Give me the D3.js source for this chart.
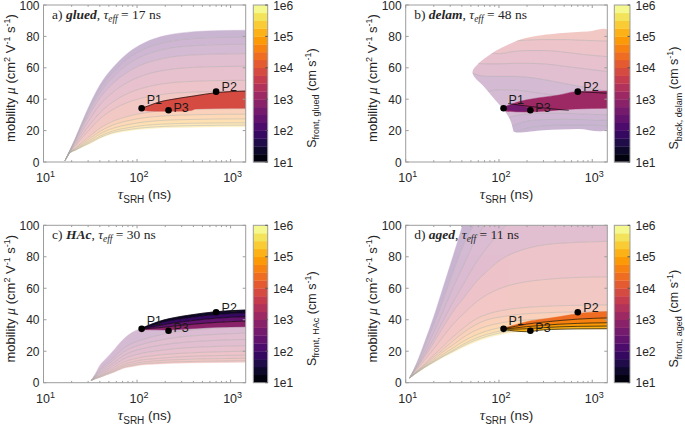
<!DOCTYPE html>
<html><head><meta charset="utf-8">
<script src="https://cdn.jsdelivr.net/npm/d3@7"></script>
<style>
body{margin:0;background:#fff}
svg{display:block}
text{font-family:"Liberation Sans",Arial,sans-serif;fill:#262626}
</style>
</head><body><svg id="c" width="685" height="427"></svg>
<script>
// ================= DATA =================
const pointNames = ["P1", "P2", "P3"];
const pointTau = [112, 700, 217];
const pointMu = [34.2, 44.8, 33.0];

const xTickValues = [10, 100, 1000];
const xTickExponents = ["1", "2", "3"];
const yTickValues = [0, 20, 40, 60, 80, 100];
const cbTickValues = [1, 2, 3, 4, 5, 6];
const cbTickLabels = ["1e1", "1e2", "1e3", "1e4", "1e5", "1e6"];

const panelLetters = ["a", "b", "c", "d"];
const panelNames = ["glued", "delam", "HAc", "aged"];
const panelTauEff = [17, 48, 30, 11];
const cbSubscripts = ["front, glued", "back, delam", "front, HAc", "front, aged"];

// ---- panel a (glued): contour lines of S_front (mu at each tau), top -> bottom
const tauA = [17, 19, 22, 26, 32, 40, 55, 80, 120, 200, 400, 800, 1500];
const linesA = [
  [1, 7, 15.5, 26, 38, 49, 60, 69.5, 76, 80.5, 83, 83.8, 84],
  [1, 6.9, 14.9, 24.8, 36.1, 46.5, 56.9, 65.9, 72, 76.2, 78.6, 79.3, 79.5],
  [1, 6.8, 14.3, 23.6, 34.2, 44, 53.9, 62.2, 68, 71.9, 74.1, 74.8, 75],
  [1, 6.6, 13.5, 22, 31.7, 40.7, 49.8, 57.4, 62.6, 66.2, 68.2, 68.8, 69],
  [1, 6.4, 12.5, 19.8, 28.3, 36.3, 44.3, 50.9, 55.4, 58.5, 60.3, 60.8, 61],
  [1, 6.2, 11.3, 17.4, 24.5, 31.3, 38.2, 43.7, 47.4, 50, 51.4, 51.9, 52],
  [1, 6, 10.4, 15.5, 21.5, 27.4, 33.4, 38, 41.1, 43.3, 44.5, 44.9, 45],
  [1, 5.8, 9, 12.6, 16.9, 21.4, 25.9, 29.1, 31.3, 32.8, 33.6, 33.9, 34],
  [1, 5.7, 8.5, 11.6, 15.4, 19.4, 23.5, 26.3, 28.2, 29.4, 30.1, 30.4, 30.5],
  [1, 5.6, 8.1, 10.8, 14.1, 17.8, 21.4, 23.8, 25.5, 26.6, 27.1, 27.4, 27.5],
  [1, 5.6, 7.8, 10.2, 13.1, 16.4, 19.7, 21.8, 23.3, 24.2, 24.7, 24.9, 25],
  [1, 5.5, 7.6, 9.8, 12.4, 15.5, 18.7, 20.6, 21.9, 22.7, 23.2, 23.4, 23.5],
  [1, 5.5, 7.5, 9.5, 12, 15, 18, 19.8, 21, 21.8, 22.2, 22.4, 22.5]
];
const bandSA = [2.1, 2.4, 2.7, 3.0, 3.3, 3.6, 3.9, 4.3, 4.6, 4.9, 5.1, 5.3];
const hlTauA = [112, 130, 177, 217, 300, 380, 420, 690, 1500];
const hlLinesA = [
  [34.2, 35.6, 38.4, 39.5, 40.9, 41.8, 42.2, 44.1, 45.2],
  [33.4, 32.5, 32.3, 32.3, 32.4, 32.8, 33.8, 34.1, 34.2]
];
const hlSA = [3.85];
const hlBlackA = [0];

// ---- panel b (delam)
const tauB = [40, 55, 75, 100, 140, 200, 300, 500, 800, 1500];
const linesB = [
  [100, 100, 100, 100, 100, 100, 100, 100, 100, 100],
  [80, 80, 79, 78, 77.2, 77.6, 78, 78, 77.5, 77],
  [75, 72, 70, 69, 70.3, 71, 71, 70, 68.5, 67],
  [66, 63, 62.5, 62.5, 62.8, 62.8, 62.5, 61, 59.5, 57.5],
  [60, 56, 54.5, 54.5, 54.5, 54, 52.5, 50, 47.8, 45],
  [40, 43, 45, 46, 46, 45, 43.5, 41.5, 39.5, 37.5],
  [10, 15, 20, 25, 29, 30.5, 31, 31, 30.5, 30],
  [5, 10, 14, 18, 23, 26, 27, 27.2, 27, 26.5],
  [0, 4, 8, 12, 18, 21.5, 23, 23.5, 23.5, 23],
  [0, 0, 0, 0, 0, 0, 0, 0, 0, 0]
];
const bandSB = [3.95, 3.7, 3.45, 3.15, 2.7, 2.5, 2.35, 2.2, 2.05];
const outlineTauB = [145, 300, 700, 1500, 1500, 900, 440, 194, 128, 85, 61, 52, 56, 66.5, 85, 100, 109, 120, 130, 137, 141, 145];
const outlineMuB = [19.2, 20.3, 21, 21.6, 83.7, 83.2, 82, 79, 75, 69.5, 63, 57.5, 53.3, 49, 41.6, 36.8, 34.2, 31, 27.5, 24, 21, 19.2];
const hlTauB = [109, 120, 194, 300, 441, 666, 1500];
const hlLinesB = [
  [34.2, 35.5, 39.5, 41.3, 42.7, 44.8, 45.2],
  [34.0, 32.4, 31.8, 32.3, 33.1, 33.8, 34.2]
];
const hlSB = [3.1];
const hlBlackB = [];
const wedgeTauB = [109, 150, 215, 150];
const wedgeMuB = [34.2, 36.8, 33.2, 32.2];
const wedgeSB = 2.55;
const blackTauB1 = [125, 200, 350, 560];
const blackMuB1 = [37.2, 35.6, 34.0, 32.9];
const blackTauB2 = [700, 1450];
const blackMuB2 = [44.8, 43.8];

// ---- panel c (HAc)
const tauC = [32.5, 36, 40, 47, 56, 71, 90, 110, 150, 245, 500, 1500];
const linesC = [
  [1.5, 6, 11, 15.5, 20.5, 27.5, 32.2, 34.5, 37.7, 41.3, 44.2, 46.2],
  [1.5, 4.9, 8.5, 12.1, 16, 21.6, 25.2, 27, 29.4, 32, 34.1, 35.6],
  [1.5, 4.4, 7.6, 10.8, 14.3, 19.3, 22.5, 24.2, 26.2, 28.5, 30.2, 31.5],
  [1.5, 4, 6.7, 9.5, 12.6, 17.1, 19.9, 21.4, 23.1, 25, 26.5, 27.5],
  [1.5, 3.6, 5.7, 8.2, 10.9, 14.9, 17.2, 18.6, 19.9, 21.5, 22.7, 23.5],
  [1.5, 3.2, 4.9, 7.1, 9.5, 13, 14.9, 16.1, 17.2, 18.4, 19.3, 20],
  [1.5, 3, 4.3, 6.3, 8.4, 11.6, 13.3, 14.4, 15.2, 16.2, 17, 17.5],
  [1.5, 2.8, 3.9, 5.7, 7.5, 10.5, 11.9, 12.9, 13.7, 14.5, 15.1, 15.5],
  [1.5, 2.6, 3.5, 5.2, 6.9, 9.7, 10.9, 11.9, 12.5, 13.2, 13.6, 14],
  [1.5, 2.5, 3.3, 4.9, 6.5, 9.1, 10.3, 11.2, 11.7, 12.3, 12.7, 13]
];
const bandSC = [2.6, 2.8, 3.0, 3.2, 3.35, 3.5, 3.65, 3.8, 3.95];
const hlTauC = [112, 140, 192, 250, 372, 700, 1500];
const hlLinesC = [
  [34.6, 37, 39.8, 41.3, 43, 45.1, 46.2],
  [34.4, 36.2, 38.6, 40, 41.5, 43.4, 44.5],
  [34.2, 35.3, 36.8, 38, 39.3, 41, 42],
  [34.0, 34.5, 35.2, 36, 37, 38.3, 39.2],
  [33.8, 33.6, 33.5, 33.6, 34.3, 35.2, 35.6]
];
const hlSC = [1.3, 1.8, 2.3, 2.9];
const hlBlackC = [0, 1, 2, 3];

// ---- panel d (aged)
const tauD = [11, 13, 16, 20, 25, 32, 42, 55, 75, 110, 170, 300, 600, 1500];
const linesD = [
  [3, 12, 26, 42, 60, 80, 103, 130, 160, 200, 230, 260, 280, 290],
  [3, 11, 23, 37, 52, 70, 88, 102, 125, 150, 170, 185, 195, 200],
  [3, 10, 20, 32, 45, 60, 75, 90, 103, 118, 128, 135, 140, 142],
  [3, 9.5, 18, 28, 39, 51, 63, 75, 86, 98, 106, 112, 116, 118],
  [3, 9, 16.5, 25.5, 35, 45, 54, 63, 71, 79, 84, 87.5, 89, 89.8],
  [3, 8, 14.5, 21.5, 29, 37, 44, 50.5, 56, 60.5, 63.5, 65.5, 66.7, 67.3],
  [3, 7, 12, 17.5, 23, 29, 35, 40, 43.5, 46, 47.5, 48.5, 49.1, 49.4],
  [3, 6.8, 11.3, 16.2, 21, 26.5, 32, 36.5, 40, 42, 43.5, 44.4, 44.9, 45.2],
  [3, 6.5, 10.7, 15, 19.5, 24, 29, 33, 36, 38.2, 39.6, 40.4, 40.8, 41],
  [3, 6.3, 10.2, 14, 18, 22, 26.5, 30, 33, 35.3, 36.7, 37.4, 37.8, 38],
  [3, 6.2, 9.9, 13.5, 17, 20.6, 24.6, 28, 30.8, 33.2, 34.6, 35.4, 35.8, 36],
  [3, 6.1, 9.7, 13.1, 16.5, 19.9, 23.6, 26.8, 29.6, 32, 33.5, 34.5, 34.9, 35.1],
  [3, 6, 9.5, 12.8, 16, 19.2, 22.7, 25.7, 28.5, 30.9, 32.5, 33.6, 34.1, 34.3]
];
const bandSD = [2.2, 2.5, 2.8, 3.1, 3.5, 3.85, 4.15, 4.4, 4.65, 4.9, 5.15, 5.4];
const hlTauD = [111, 150, 198, 300, 450, 700, 1500];
const hlLinesD = [
  [34.6, 36.8, 38.8, 40.5, 42, 43.9, 45.3],
  [34.4, 35.8, 37.2, 38.5, 39.5, 40.4, 41.2],
  [34.2, 34.8, 35.6, 36.5, 37.2, 37.7, 38.1],
  [34.0, 34.0, 34.3, 35.0, 35.5, 35.8, 36.0],
  [33.8, 32.8, 32.4, 33.6, 34.0, 34.2, 34.3]
];
const hlSD = [4.4, 4.6, 4.85, 5.1];
const hlBlackD = [1, 2, 3, 4];

// ================= LAYOUT =================
const layout = [
  {x0: 43.5, x1: 245.7, y0: 5, y1: 162, cb0: 253.3, cb1: 267.7},
  {x0: 405.7, x1: 607.3, y0: 5, y1: 162, cb0: 614.3, cb1: 630},
  {x0: 43.5, x1: 245.7, y0: 225.3, y1: 382.7, cb0: 253.3, cb1: 267.7},
  {x0: 405.7, x1: 607.3, y0: 225.3, y1: 382.7, cb0: 614.3, cb1: 630}
];
const labelOffsets = [[5, -4], [5.5, -0.5], [5, 1.5]];
const axisColor = "#9d9d9d";
const serif = "'Liberation Serif','Times New Roman',serif";

const panels = [
  {tau: tauA, lines: linesA, bandS: bandSA, hlTau: hlTauA, hlLines: hlLinesA, hlS: hlSA, hlBlack: hlBlackA},
  {tau: tauB, lines: linesB, bandS: bandSB, hlTau: hlTauB, hlLines: hlLinesB, hlS: hlSB, hlBlack: hlBlackB,
   outline: outlineTauB.map((t, i) => [t, outlineMuB[i]]),
   wedge: {pts: wedgeTauB.map((t, i) => [t, wedgeMuB[i]]), s: wedgeSB},
   extraBlack: [blackTauB1.map((t, i) => [t, blackMuB1[i]]), blackTauB2.map((t, i) => [t, blackMuB2[i]])]},
  {tau: tauC, lines: linesC, bandS: bandSC, hlTau: hlTauC, hlLines: hlLinesC, hlS: hlSC, hlBlack: hlBlackC},
  {tau: tauD, lines: linesD, bandS: bandSD, hlTau: hlTauD, hlLines: hlLinesD, hlS: hlSD, hlBlack: hlBlackD}
];

// discrete 20-level inferno colormap (1e1..1e6, 4 levels per decade)
const cmap = s => d3.interpolateInferno((Math.min(19, Math.max(0, Math.floor((s - 1) * 4 + 1e-9))) + 0.5) / 20);

const svg = d3.select("#c");
const defs = svg.append("defs");

panels.forEach((p, idx) => {
  const L = layout[idx];
  const x = d3.scaleLog().domain([10, 1450]).range([L.x0, L.x1]);
  const y = d3.scaleLinear().domain([0, 100]).range([L.y1, L.y0]);
  const g = svg.append("g");

  defs.append("clipPath").attr("id", "clip" + idx).append("rect")
    .attr("x", L.x0).attr("y", L.y0).attr("width", L.x1 - L.x0).attr("height", L.y1 - L.y0);
  const pg = g.append("g").attr("clip-path", `url(#clip${idx})`);
  let fg = pg;
  if (p.outline) {
    defs.append("clipPath").attr("id", "reg" + idx).append("path")
      .attr("d", d3.line().x(d => x(d[0])).y(d => y(d[1])).curve(d3.curveCatmullRomClosed.alpha(0.5))(p.outline.slice(0, -1)));
    fg = pg.append("g").attr("clip-path", `url(#reg${idx})`);
  }
  const area = d3.area().x(d => x(d.t)).y0(d => y(d.lo)).y1(d => y(d.hi)).curve(d3.curveMonotoneX);
  const line = d3.line().x(d => x(d[0])).y(d => y(d[1])).curve(d3.curveMonotoneX);

  // faded full parameter space
  const faded = fg.append("g").attr("opacity", 0.3);
  p.bandS.forEach((s, i) => {
    const data = p.tau.map((t, j) => ({t, hi: p.lines[i][j], lo: p.lines[i + 1][j]}));
    faded.append("path").attr("d", area(data)).attr("fill", cmap(s)).attr("stroke", cmap(s)).attr("stroke-width", 0.4);
  });
  // gray contour lines
  for (let i = 1; i < p.lines.length - 1; i++) {
    fg.append("path").attr("d", line(p.tau.map((t, j) => [t, p.lines[i][j]])))
      .attr("fill", "none").attr("stroke", "#a9a9a9").attr("stroke-width", 0.6).attr("opacity", 0.75);
  }
  // highlighted consistent region
  const hg = pg.append("g");
  p.hlS.forEach((s, i) => {
    const data = p.hlTau.map((t, j) => ({t, hi: p.hlLines[i][j], lo: p.hlLines[i + 1][j]}));
    hg.append("path").attr("d", area(data)).attr("fill", cmap(s)).attr("stroke", cmap(s)).attr("stroke-width", 0.4);
  });
  if (p.wedge) {
    hg.append("path").attr("d", d3.line().x(d => x(d[0])).y(d => y(d[1])).curve(d3.curveCatmullRomClosed)(p.wedge.pts))
      .attr("fill", cmap(p.wedge.s));
  }
  p.hlBlack.forEach(k => {
    hg.append("path").attr("d", line(p.hlTau.map((t, j) => [t, p.hlLines[k][j]])))
      .attr("fill", "none").attr("stroke", "#000").attr("stroke-width", 0.8).attr("opacity", 0.8);
  });
  (p.extraBlack || []).forEach(pts => {
    hg.append("path").attr("d", line(pts)).attr("fill", "none").attr("stroke", "#000").attr("stroke-width", 0.8).attr("opacity", 0.8);
  });

  // points
  pointNames.forEach((n, i) => {
    const px = x(pointTau[i]), py = y(pointMu[i]);
    g.append("circle").attr("cx", px).attr("cy", py).attr("r", 3.3).attr("fill", "#000");
    g.append("text").attr("x", px + labelOffsets[i][0]).attr("y", py + labelOffsets[i][1])
      .style("font-size", "12.5px").style("fill", "#1a1a1a").text(n);
  });

  // axes box
  g.append("rect").attr("x", L.x0).attr("y", L.y0).attr("width", L.x1 - L.x0).attr("height", L.y1 - L.y0)
    .attr("fill", "none").attr("stroke", axisColor).attr("stroke-width", 1);
  // y ticks
  yTickValues.forEach(v => {
    const yy = y(v);
    g.append("line").attr("x1", L.x0).attr("x2", L.x0 + 3).attr("y1", yy).attr("y2", yy).attr("stroke", axisColor);
    g.append("line").attr("x1", L.x1).attr("x2", L.x1 - 3).attr("y1", yy).attr("y2", yy).attr("stroke", axisColor);
    g.append("text").attr("x", L.x0 - 4).attr("y", yy + 4.6).attr("text-anchor", "end").style("font-size", "12px").text(v);
  });
  // x ticks (major + minor)
  x.ticks().forEach(v => {
    const major = xTickValues.includes(v);
    const len = major ? 3 : 1.8;
    const xx = x(v);
    g.append("line").attr("x1", xx).attr("x2", xx).attr("y1", L.y1).attr("y2", L.y1 - len).attr("stroke", axisColor);
    g.append("line").attr("x1", xx).attr("x2", xx).attr("y1", L.y0).attr("y2", L.y0 + len).attr("stroke", axisColor);
  });
  xTickValues.forEach((v, i) => {
    const t = g.append("text").attr("x", x(v) + 2).attr("y", L.y1 + 20).attr("text-anchor", "middle").style("font-size", "12.5px");
    t.append("tspan").text("10");
    t.append("tspan").text(xTickExponents[i]).attr("dy", -5).style("font-size", "9px");
  });

  // axis labels
  const xl = g.append("text").attr("x", (L.x0 + L.x1) / 2).attr("y", L.y1 + 37).attr("text-anchor", "middle").style("font-size", "13.5px");
  xl.append("tspan").text("τ").style("font-family", serif).style("font-style", "italic").style("font-size", "15px");
  xl.append("tspan").text("SRH").attr("dy", 4).style("font-size", "10px");
  xl.append("tspan").text(" (ns)").attr("dy", -4);

  const yl = g.append("text").attr("transform", `translate(${L.x0 - 28.5},${L.y1 - 84}) rotate(-90)`)
    .attr("text-anchor", "middle").style("font-size", "13px");
  yl.append("tspan").text("mobility ");
  yl.append("tspan").text("μ").style("font-family", serif).style("font-style", "italic").style("font-size", "14px");
  yl.append("tspan").text(" (cm");
  yl.append("tspan").text("2").attr("dy", -5).style("font-size", "9px");
  yl.append("tspan").text(" V").attr("dy", 5);
  yl.append("tspan").text("-1").attr("dy", -5).style("font-size", "9px");
  yl.append("tspan").text(" s").attr("dy", 5);
  yl.append("tspan").text("-1").attr("dy", -5).style("font-size", "9px");
  yl.append("tspan").text(")").attr("dy", 5);

  // panel annotation
  const ann = g.append("text").attr("x", L.x0 + 8.5).attr("y", L.y0 + 13.5)
    .style("font-family", serif).style("font-size", "13.5px").style("fill", "#262626");
  ann.append("tspan").text(panelLetters[idx] + ") ");
  ann.append("tspan").text(panelNames[idx]).style("font-weight", "bold").style("font-style", "italic");
  ann.append("tspan").text(", ");
  ann.append("tspan").text("τ").style("font-style", "italic");
  ann.append("tspan").text("eff").style("font-style", "italic").style("font-size", "9.5px").attr("dy", 3);
  ann.append("tspan").text(" = " + panelTauEff[idx] + " ns").attr("dy", -3);

  // colorbar
  const cy = d3.scaleLinear().domain([1, 6]).range([L.y1, L.y0]);
  d3.range(1, 6, 0.25).forEach(s => {
    g.append("rect").attr("x", L.cb0).attr("width", L.cb1 - L.cb0)
      .attr("y", cy(s + 0.25)).attr("height", cy(s) - cy(s + 0.25) + 0.3).attr("fill", cmap(s + 0.125));
  });
  g.append("rect").attr("x", L.cb0).attr("y", L.y0).attr("width", L.cb1 - L.cb0).attr("height", L.y1 - L.y0)
    .attr("fill", "none").attr("stroke", axisColor);
  cbTickValues.forEach((v, i) => {
    g.append("line").attr("x1", L.cb1 - 2.5).attr("x2", L.cb1).attr("y1", cy(v)).attr("y2", cy(v)).attr("stroke", "#555");
    g.append("text").attr("x", L.cb1 + 5.5).attr("y", cy(v) + 4.6).style("font-size", "12px").text(cbTickLabels[i]);
  });
  const cl = g.append("text").attr("transform", `translate(${L.cb1 + 48},${L.y1 - 64}) rotate(-90)`)
    .attr("text-anchor", "middle").style("font-size", "12.5px");
  cl.append("tspan").text("S");
  cl.append("tspan").text(cbSubscripts[idx]).attr("dy", 3.5).style("font-size", "9px");
  cl.append("tspan").text(" (cm s").attr("dy", -3.5);
  cl.append("tspan").text("-1").attr("dy", -5).style("font-size", "9px");
  cl.append("tspan").text(")").attr("dy", 5);
});
</script>
</body></html>
